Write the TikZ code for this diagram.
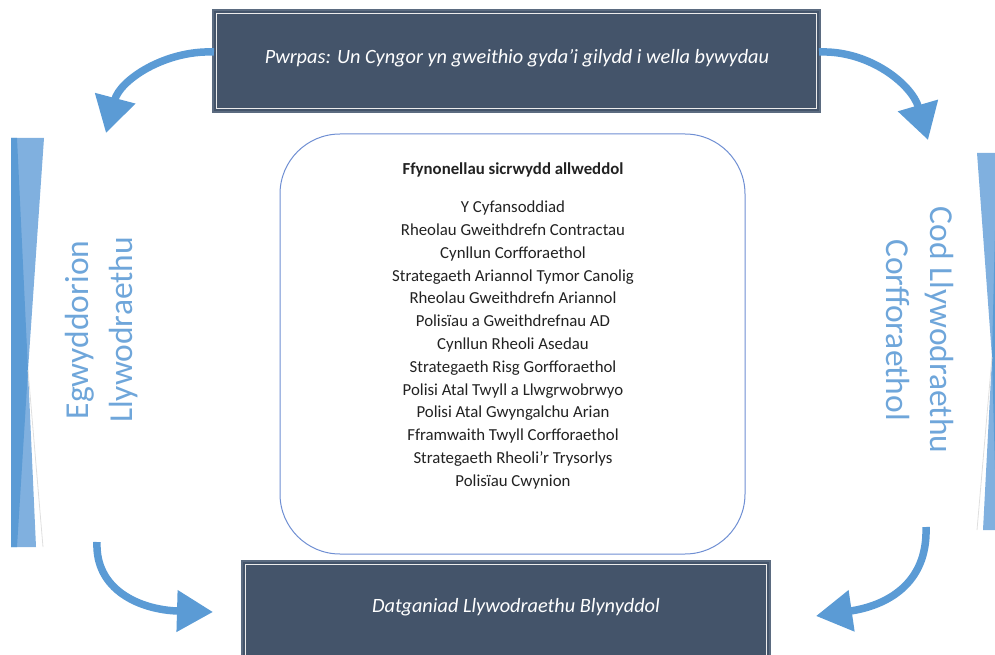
\documentclass[tikz,border=0pt]{standalone}
\usepackage{fontspec}
\setmainfont{Carlito}
\usetikzlibrary{arrows.meta}
\definecolor{boxfill}{HTML}{44546A}
\definecolor{boxedge}{HTML}{5B6B80}
\definecolor{arrowblue}{HTML}{5B9BD5}
\definecolor{lightbar}{HTML}{80B0DF}
\definecolor{darkbar}{HTML}{5B9BD5}
\definecolor{sidetext}{HTML}{6FA6DA}
\definecolor{roundedge}{HTML}{6F8FD3}
\definecolor{listtext}{HTML}{222222}
\tikzset{
  darkbox/.style={draw=boxedge, line width=1.2pt, fill=boxfill},
  innerline/.style={draw=white!85!gray, line width=1.1pt},
  boxtext/.style={text=white, font=\fontsize{20.3}{24}\selectfont\itshape},
  bigarrow/.style={draw=arrowblue, line width=7.5pt, -{Triangle[length=36pt,width=40pt]}},
  sidelabel/.style={text=sidetext, font=\fontsize{33.5}{44}\selectfont, align=center},
  listfont/.style={text=listtext, align=center, font=\fontsize{16.8}{22.8}\selectfont}
}
\begin{document}
\begin{tikzpicture}[x=1pt,y=-1pt]
\useasboundingbox (0,0) rectangle (995,655);
% side bars
\fill[lightbar] (11,138) -- (44,138) -- (28,370) -- (36,547) -- (11,547) -- cycle;
\fill[darkbar] (11,138) -- (17,138) -- (28,370) -- (17,547) -- (11,547) -- cycle;
\draw[gray!25, line width=0.8pt] (28,370) -- (43,547);
\fill[lightbar] (977,153) -- (995,153) -- (995,530) -- (983,530) -- (992,357) -- cycle;
\fill[darkbar] (995,230) -- (992,357) -- (995,470) -- cycle;
\draw[gray!25, line width=0.8pt] (992,357) -- (977,530);
% top box
\draw[darkbox] (213,10) rectangle (820,112);
\draw[innerline] (216.5,13.5) rectangle (816.5,108.5);
\node[boxtext] (top) at (517,58) {Pwrpas: Un Cyngor yn gweithio gyda’i gilydd i wella bywydau};
% bottom box
\draw[darkbox] (242,561) rectangle (770,660);
\draw[innerline] (245.5,564.5) rectangle (766.5,660);
\node[boxtext] (bottom) at (516,607) {Datganiad Llywodraethu Blynyddol};
% centre rounded box
\draw[roundedge, line width=1pt, fill=white, rounded corners=60pt] (280,134) rectangle (745,554);
\node[listfont, font=\fontsize{16.8}{22.8}\selectfont\bfseries] (title) at (513,170) {Ffynonellau sicrwydd allweddol};
\node[listfont] (list) at (513,345) {Y Cyfansoddiad\\
Rheolau Gweithdrefn Contractau\\
Cynllun Corfforaethol\\
Strategaeth Ariannol Tymor Canolig\\
Rheolau Gweithdrefn Ariannol\\
Polisïau a Gweithdrefnau AD\\
Cynllun Rheoli Asedau\\
Strategaeth Risg Gorfforaethol\\
Polisi Atal Twyll a Llwgrwobrwyo\\
Polisi Atal Gwyngalchu Arian\\
Fframwaith Twyll Corfforaethol\\
Strategaeth Rheoli’r Trysorlys\\
Polisïau Cwynion};
% side labels
\node[sidelabel, rotate=90] (left) at (102,330) {Egwyddorion\\Llywodraethu};
\node[sidelabel, rotate=-90] (right) at (920,330) {Cod Llywodraethu\\Corfforaethol};
% arrow end points
\coordinate (tlS) at (214,52);
\coordinate (tlE) at (106,133);
\coordinate (trS) at (819,52);
\coordinate (trE) at (928,140);
\coordinate (blS) at (97,542);
\coordinate (blE) at (213,612);
\coordinate (brS) at (926,527);
\coordinate (brE) at (816,616);
\draw[bigarrow] (tlS) .. controls (165,50) and (120,80) .. (tlE);
\draw[bigarrow] (trS) .. controls (870,50) and (912,85) .. (trE);
\draw[bigarrow] (blS) .. controls (95,590) and (140,610) .. (blE);
\draw[bigarrow] (brS) .. controls (928,585) and (885,606) .. (brE);
\end{tikzpicture}
\end{document}
